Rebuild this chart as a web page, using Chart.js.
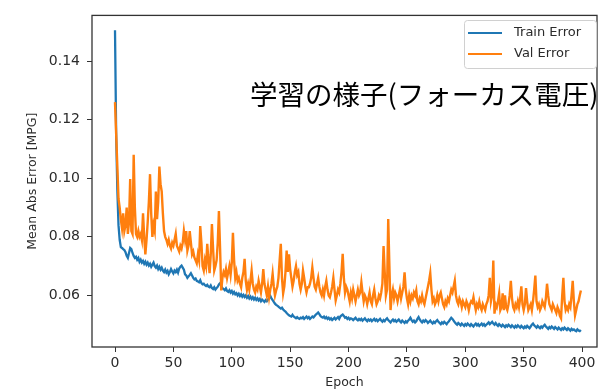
<!DOCTYPE html>
<html>
<head>
<meta charset="utf-8">
<script src="https://cdn.jsdelivr.net/npm/chart.js@4.4.1/dist/chart.umd.min.js"></script>
<style>
  html, body { margin: 0; padding: 0; background: #fff; }
  #wrap { position: relative; width: 599px; height: 390px; }
</style>
</head>
<body>
<div id="wrap"><canvas id="lossChart"></canvas></div>
<script>
// values, one per epoch
const trainError = [
  .1505, .1150, .0960, .0840, .0790, .0765, .0762, .0758, .0755, .0748,
  .0735, .0728, .0745, .0762, .0758, .0745, .0735, .0728, .0732, .0722,
  .0728, .0715, .0722, .0712, .0718, .0708, .0715, .0705, .0712, .0702,
  .0708, .0698, .0705, .0712, .0700, .0695, .0702, .0690, .0698, .0688,
  .0695, .0685, .0680, .0688, .0678, .0684, .0672, .0680, .0690, .0682,
  .0675, .0685, .0680, .0688, .0678, .0692, .0698, .0702, .0695, .0688,
  .0672, .0668, .0660, .0665, .0670, .0676, .0668, .0660, .0655, .0658,
  .0650, .0648, .0645, .0652, .0642, .0638, .0640, .0635, .0632, .0636,
  .0630, .0628, .0634, .0625, .0622, .0628, .0620, .0625, .0630, .0638,
  .0642, .0632, .0625, .0622, .0618, .0624, .0615, .0612, .0618, .0610,
  .0615, .0606, .0612, .0604, .0608, .0600, .0606, .0598, .0604, .0596,
  .0602, .0595, .0600, .0592, .0598, .0590, .0596, .0588, .0594, .0586,
  .0592, .0585, .0590, .0583, .0588, .0580, .0586, .0582, .0578, .0584,
  .0580, .0586, .0592, .0598, .0590, .0584, .0578, .0572, .0568, .0565,
  .0562, .0558, .0555, .0558, .0552, .0548, .0545, .0540, .0536, .0532,
  .0530, .0528, .0534, .0528, .0525, .0522, .0526, .0522, .0520, .0524,
  .0522, .0526, .0520, .0524, .0528, .0522, .0526, .0520, .0524, .0528,
  .0525, .0530, .0535, .0538, .0542, .0536, .0530, .0526, .0524, .0528,
  .0522, .0526, .0520, .0524, .0518, .0522, .0516, .0520, .0524, .0518,
  .0522, .0526, .0520, .0528, .0532, .0535, .0530, .0524, .0526, .0520,
  .0524, .0518, .0522, .0520, .0516, .0520, .0524, .0518, .0515, .0520,
  .0516, .0520, .0514, .0518, .0522, .0516, .0512, .0518, .0514, .0518,
  .0512, .0516, .0520, .0514, .0518, .0512, .0516, .0520, .0514, .0510,
  .0516, .0512, .0518, .0522, .0516, .0512, .0508, .0514, .0518, .0512,
  .0516, .0510, .0514, .0518, .0512, .0508, .0514, .0510, .0506, .0512,
  .0508, .0514, .0518, .0524, .0516, .0510, .0514, .0508, .0512, .0520,
  .0526, .0518, .0512, .0508, .0514, .0510, .0516, .0512, .0506, .0510,
  .0514, .0508, .0504, .0510, .0506, .0512, .0516, .0510, .0506, .0502,
  .0508, .0504, .0510, .0506, .0502, .0508, .0512, .0518, .0524, .0520,
  .0514, .0508, .0504, .0500, .0506, .0502, .0498, .0504, .0500, .0496,
  .0502, .0498, .0504, .0500, .0496, .0502, .0498, .0494, .0500, .0504,
  .0498, .0502, .0496, .0500, .0504, .0498, .0502, .0496, .0500, .0504,
  .0508, .0502, .0506, .0510, .0504, .0500, .0506, .0500, .0496, .0502,
  .0498, .0494, .0500, .0496, .0492, .0498, .0494, .0500, .0496, .0492,
  .0498, .0494, .0490, .0496, .0492, .0498, .0494, .0490, .0496, .0492,
  .0488, .0494, .0490, .0496, .0492, .0488, .0494, .0500, .0504, .0498,
  .0494, .0490, .0496, .0492, .0488, .0494, .0490, .0496, .0500, .0494,
  .0490, .0486, .0492, .0488, .0494, .0490, .0486, .0492, .0488, .0484,
  .0490, .0486, .0482, .0488, .0484, .0490, .0486, .0482, .0488, .0484,
  .0480, .0486, .0482, .0484, .0480, .0478, .0484, .0480, .0478, .0482
];

const valError = [
  .1260, .1150, .1040, .0930, .0900, .0860, .0830, .0880, .0820, .0840,
  .0900, .0810, .0850, .0997, .0820, .0810, .1080, .0900, .0810, .0800,
  .0820, .0800, .0810, .0790, .0880, .0800, .0740, .0790, .0850, .0920,
  .1014, .0880, .0800, .0840, .0820, .0955, .0860, .0920, .1040, .0980,
  .0955, .0880, .0820, .0800, .0790, .0776, .0790, .0770, .0760, .0780,
  .0770, .0790, .0810, .0770, .0760, .0750, .0770, .0760, .0780, .0820,
  .0790, .0820, .0753, .0770, .0820, .0780, .0740, .0750, .0730, .0720,
  .0710, .0740, .0720, .0837, .0780, .0700, .0685, .0720, .0700, .0776,
  .0720, .0676, .0740, .0844, .0760, .0685, .0700, .0720, .0780, .0888,
  .0760, .0617, .0660, .0680, .0670, .0690, .0660, .0680, .0700, .0670,
  .0710, .0814, .0720, .0660, .0680, .0650, .0660, .0640, .0628, .0660,
  .0680, .0725, .0650, .0620, .0640, .0620, .0650, .0685, .0640, .0620,
  .0610, .0630, .0620, .0650, .0630, .0610, .0640, .0690, .0640, .0620,
  .0600, .0630, .0594, .0620, .0640, .0674, .0630, .0600, .0617, .0630,
  .0660, .0720, .0776, .0660, .0607, .0630, .0680, .0753, .0680, .0740,
  .0690, .0660, .0630, .0650, .0680, .0700, .0670, .0680, .0640, .0620,
  .0640, .0685, .0660, .0630, .0610, .0628, .0628, .0640, .0660, .0695,
  .0660, .0630, .0620, .0640, .0660, .0630, .0610, .0600, .0620, .0600,
  .0630, .0650, .0620, .0600, .0594, .0610, .0630, .0660, .0620, .0583,
  .0600, .0620, .0610, .0640, .0680, .0742, .0660, .0610, .0630, .0620,
  .0600, .0580, .0610, .0590, .0620, .0600, .0580, .0600, .0620, .0600,
  .0610, .0645, .0610, .0580, .0600, .0590, .0570, .0590, .0610, .0580,
  .0570, .0600, .0620, .0590, .0570, .0580, .0600, .0590, .0610, .0640,
  .0769, .0680, .0600, .0620, .0861, .0700, .0550, .0600, .0620, .0590,
  .0610, .0600, .0580, .0600, .0620, .0590, .0610, .0630, .0679, .0620,
  .0590, .0570, .0600, .0580, .0600, .0590, .0610, .0600, .0617, .0580,
  .0570, .0590, .0580, .0600, .0580, .0570, .0590, .0610, .0630, .0650,
  .0676, .0620, .0580, .0590, .0570, .0580, .0600, .0580, .0600, .0610,
  .0590, .0570, .0560, .0580, .0570, .0590, .0580, .0600, .0620, .0610,
  .0630, .0650, .0600, .0580, .0570, .0590, .0580, .0560, .0580, .0570,
  .0560, .0580, .0570, .0550, .0570, .0580, .0575, .0594, .0570, .0550,
  .0570, .0560, .0580, .0560, .0550, .0570, .0560, .0550, .0570, .0580,
  .0600, .0660, .0580, .0600, .0719, .0538, .0570, .0560, .0580, .0607,
  .0550, .0560, .0607, .0550, .0600, .0560, .0550, .0570, .0600, .0650,
  .0590, .0560, .0550, .0570, .0560, .0580, .0560, .0590, .0631, .0570,
  .0550, .0570, .0625, .0580, .0550, .0560, .0570, .0550, .0580, .0620,
  .0668, .0580, .0560, .0570, .0550, .0560, .0580, .0570, .0560, .0590,
  .0640, .0600, .0570, .0560, .0550, .0570, .0560, .0550, .0540, .0560,
  .0550, .0530, .0522, .0600, .0660, .0580, .0550, .0560, .0550, .0570,
  .0560, .0600, .0650, .0580, .0532, .0550, .0570, .0580, .0600, .0617
];

const epochs = trainError.map((_, i) => i);
const xTicks = [0, 50, 100, 150, 200, 250, 300, 350, 400];
const yTicks = [0.06, 0.08, 0.10, 0.12, 0.14];
const seriesNames = ['Train Error', 'Val Error'];
const seriesColors = ['#1f77b4', '#ff7f0e'];
const chartTitle = '学習の様子(フォーカス電圧)';

const tickFont = { family: 'DejaVu Sans', size: 14 };
const inkColor = '#2b2b2b';

// frame, legend and the big overlaid caption
const overlayPlugin = {
  id: 'overlay',
  afterDatasetsDraw(chart) {
    const { ctx, chartArea: a } = chart;
    ctx.save();
    ctx.strokeStyle = '#333';
    ctx.lineWidth = 1.3;
    ctx.strokeRect(a.left, a.top, a.right - a.left, a.bottom - a.top);

    // legend box
    ctx.fillStyle = 'rgba(255,255,255,0.85)';
    ctx.strokeStyle = '#d0d0d0';
    ctx.lineWidth = 1;
    ctx.beginPath();
    ctx.roundRect(464.5, 20.5, 132, 48, 3);
    ctx.fill();
    ctx.stroke();
    ctx.font = '13px "DejaVu Sans"';
    ctx.textBaseline = 'middle';
    seriesNames.forEach((name, i) => {
      const y = 33 + i * 21;
      ctx.strokeStyle = seriesColors[i];
      ctx.lineWidth = 2.2;
      ctx.beginPath();
      ctx.moveTo(468, y);
      ctx.lineTo(502, y);
      ctx.stroke();
      ctx.fillStyle = inkColor;
      ctx.fillText(name, 514, y);
    });

    ctx.font = '27.5px "Noto Sans CJK JP"';
    ctx.fillStyle = '#000';
    ctx.textBaseline = 'middle';
    ctx.fillText(chartTitle, 250, 95);
    ctx.restore();
  }
};

new Chart(document.getElementById('lossChart'), {
  type: 'line',
  data: {
    datasets: [
      {
        label: seriesNames[0],
        data: trainError.map((v, i) => ({ x: epochs[i], y: v })),
        borderColor: seriesColors[0],
        borderWidth: 2.3,
        pointRadius: 0,
        order: 1
      },
      {
        label: seriesNames[1],
        data: valError.map((v, i) => ({ x: epochs[i], y: v })),
        borderColor: seriesColors[1],
        borderWidth: 2.4,
        pointRadius: 0,
        order: 0
      }
    ]
  },
  options: {
    responsive: true,
    maintainAspectRatio: false,
    animation: false,
    layout: { padding: { top: 13, right: 2, left: 0, bottom: 0 } },
    plugins: { legend: { display: false }, tooltip: { enabled: false } },
    scales: {
      x: {
        type: 'linear',
        min: -19.7,
        max: 412.8,
        afterBuildTicks: s => { s.ticks = xTicks.map(v => ({ value: v })); },
        afterFit: s => { s.height = 43; },
        grid: { drawOnChartArea: false, tickLength: 5, color: '#333' },
        border: { display: false },
        ticks: { font: tickFont, color: inkColor, padding: 3, maxRotation: 0 },
        title: { display: true, text: 'Epoch', font: { family: 'DejaVu Sans', size: 12.5 }, color: inkColor, padding: { top: 0, bottom: 0 } }
      },
      y: {
        min: 0.0424,
        max: 0.1556,
        afterBuildTicks: s => { s.ticks = yTicks.map(v => ({ value: v })); },
        afterFit: s => { s.width = 92; },
        grid: { drawOnChartArea: false, tickLength: 5, color: '#333' },
        border: { display: false },
        ticks: { font: tickFont, color: inkColor, padding: 7, callback: v => v.toFixed(2) },
        title: { display: true, text: 'Mean Abs Error [MPG]', font: { family: 'DejaVu Sans', size: 12.5 }, color: inkColor, padding: { top: 25, bottom: 0 } }
      }
    }
  },
  plugins: [overlayPlugin]
});
</script>
</body>
</html>
